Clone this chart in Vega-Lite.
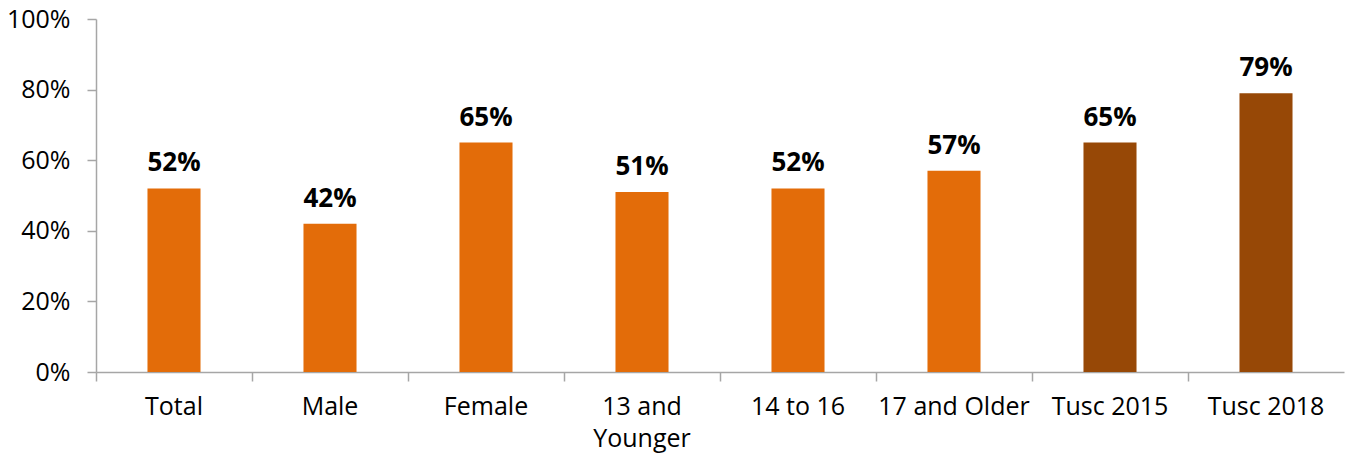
{
  "$schema": "https://vega.github.io/schema/vega-lite/v6.json",
  "width": 1248,
  "height": 353,
  "autosize": {"type": "none"},
  "padding": {"left": 96, "top": 19, "right": 8, "bottom": 83},
  "background": "white",
  "config": {"view": {"stroke": null}, "font": "Open Sans"},
  "data": {
    "values": [
      {"group": "Total", "value": 0.52, "kind": "current"},
      {"group": "Male", "value": 0.42, "kind": "current"},
      {"group": "Female", "value": 0.65, "kind": "current"},
      {"group": "13 and Younger", "value": 0.51, "kind": "current"},
      {"group": "14 to 16", "value": 0.52, "kind": "current"},
      {"group": "17 and Older", "value": 0.57, "kind": "current"},
      {"group": "Tusc 2015", "value": 0.65, "kind": "county"},
      {"group": "Tusc 2018", "value": 0.79, "kind": "county"}
    ]
  },
  "encoding": {
    "x": {
      "field": "group",
      "type": "nominal",
      "sort": null,
      "scale": {"paddingInner": 0, "paddingOuter": 0},
      "axis": {
        "title": null,
        "labelAngle": 0,
        "labelFontSize": 25,
        "labelColor": "#000000",
        "labelFont": "Open Sans",
        "labelPadding": 13,
        "labelLineHeight": 32,
        "labelExpr": "datum.label == '13 and Younger' ? ['13 and', 'Younger'] : datum.label",
        "bandPosition": 0,
        "tickSize": 9,
        "tickColor": "#a6a6a6",
        "domainColor": "#a6a6a6",
        "domainWidth": 1.5,
        "tickWidth": 1.5,
        "grid": false
      }
    },
    "y": {
      "field": "value",
      "type": "quantitative",
      "scale": {"domain": [0, 1]},
      "axis": {
        "title": null,
        "format": ".0%",
        "values": [0, 0.2, 0.4, 0.6, 0.8, 1],
        "labelFontSize": 25,
        "labelColor": "#000000",
        "labelPadding": 17,
        "tickSize": 9,
        "tickColor": "#a6a6a6",
        "domainColor": "#a6a6a6",
        "domainWidth": 1.5,
        "tickWidth": 1.5,
        "grid": false
      }
    }
  },
  "layer": [
    {
      "mark": {"type": "bar", "width": {"band": 0.34}},
      "encoding": {
        "color": {
          "field": "kind",
          "type": "nominal",
          "scale": {"domain": ["current", "county"], "range": ["#E36C09", "#974806"]},
          "legend": null
        }
      }
    },
    {
      "mark": {"type": "text", "baseline": "alphabetic", "dy": -17, "fontSize": 26, "fontWeight": "bold", "color": "#000000"},
      "encoding": {
        "text": {"field": "value", "type": "quantitative", "format": ".0%"}
      }
    }
  ]
}
